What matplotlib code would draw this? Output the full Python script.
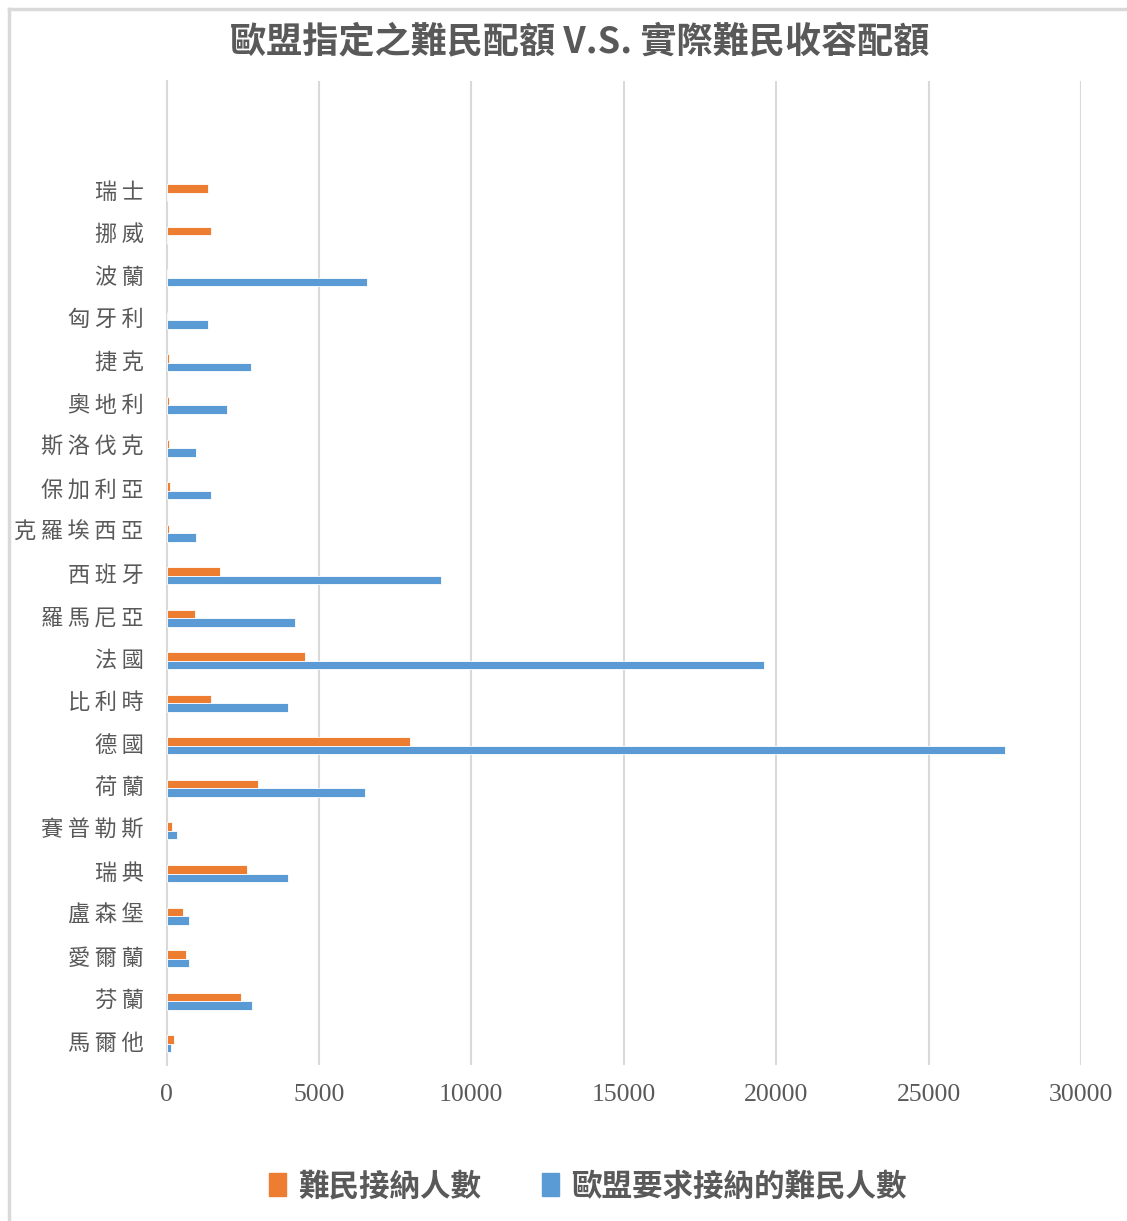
import numpy as np
import matplotlib
matplotlib.use('Agg')
import matplotlib.pyplot as plt
from matplotlib.lines import Line2D

plt.rcParams['font.family'] = ['Noto Sans CJK TC', 'DejaVu Sans']

# categories from bottom to top
countries = ['馬爾他', '芬蘭', '愛爾蘭', '盧森堡', '瑞典', '賽普勒斯', '荷蘭', '德國',
             '比利時', '法國', '羅馬尼亞', '西班牙', '克羅埃西亞', '保加利亞', '斯洛伐克',
             '奧地利', '捷克', '匈牙利', '波蘭', '挪威', '瑞士']
accepted = [250, 2450, 650, 550, 2650, 170, 3000, 8000,
            1450, 4550, 950, 1750, 70, 110, 80,
            80, 80, 0, 0, 1450, 1370]
required = [150, 2800, 750, 750, 4000, 360, 6500, 27500,
            4000, 19600, 4200, 9000, 970, 1450, 970,
            1970, 2770, 1370, 6580, 0, 0]
xticks = [0, 5000, 10000, 15000, 20000, 25000, 30000]

orange = '#ED7D31'
blue = '#5B9BD5'
gray = '#595959'
grid = '#D9D9D9'

W, H = 1127, 1221
fig = plt.figure(figsize=(W / 100, H / 100), dpi=100)
ax = fig.add_axes([166.5 / W, 1 - 1065 / H, (1081 - 166.5) / W, (1065 - 81) / H])

y = np.arange(len(countries))
h = 0.2
ax.barh(y + h / 2, accepted, height=h, color=orange, edgecolor='white', linewidth=0.6,
        label='難民接納人數', zorder=3)
ax.barh(y - h / 2, required, height=h, color=blue, edgecolor='white', linewidth=0.6,
        label='歐盟要求接納的難民人數', zorder=3)

ax.set_xlim(0, 30000)
ax.set_ylim(-0.5, -0.5 + 984 / 42.55)
ax.set_xticks(xticks)
ax.set_xticklabels([str(t) for t in xticks], family='Liberation Serif', fontsize=18.5, color=gray)
ax.set_yticks(y + 0.07)
ax.set_yticklabels(['\u2009'.join(c) for c in countries], fontsize=16, color=gray)
ax.tick_params(axis='both', length=0)
ax.tick_params(axis='x', pad=14)
ax.tick_params(axis='y', pad=16.5)
ax.grid(axis='x', color=grid, linewidth=1.5, zorder=0)
for s in ['top', 'right', 'bottom']:
    ax.spines[s].set_visible(False)
ax.spines['left'].set_color(grid)
ax.spines['left'].set_linewidth(1.5)

fig.text(580 / W, 1 - 42 / H, '歐盟指定之難民配額 V.S. 實際難民收容配額', ha='center', va='center',
         fontsize=26, fontweight='bold', color=gray)

handles = [plt.Rectangle((0, 0), 1, 1, color=orange), plt.Rectangle((0, 0), 1, 1, color=blue)]
fig.legend(handles, ['難民接納人數', '歐盟要求接納的難民人數'], loc='center',
           bbox_to_anchor=(588 / W, 1 - 1186 / H), ncol=2, frameon=False,
           prop={'size': 22, 'weight': 'bold'}, labelcolor=gray,
           handlelength=0.55, handleheight=0.8, handletextpad=0.4, columnspacing=2.0)

# chart border
fig.add_artist(Line2D([8.5 / W, 1], [1 - 8.5 / H, 1 - 8.5 / H], color=grid, linewidth=2.5))
fig.add_artist(Line2D([8.5 / W, 8.5 / W], [0, 1 - 8.5 / H], color=grid, linewidth=2.5))

fig.savefig('out.png', dpi=100, facecolor='white')
